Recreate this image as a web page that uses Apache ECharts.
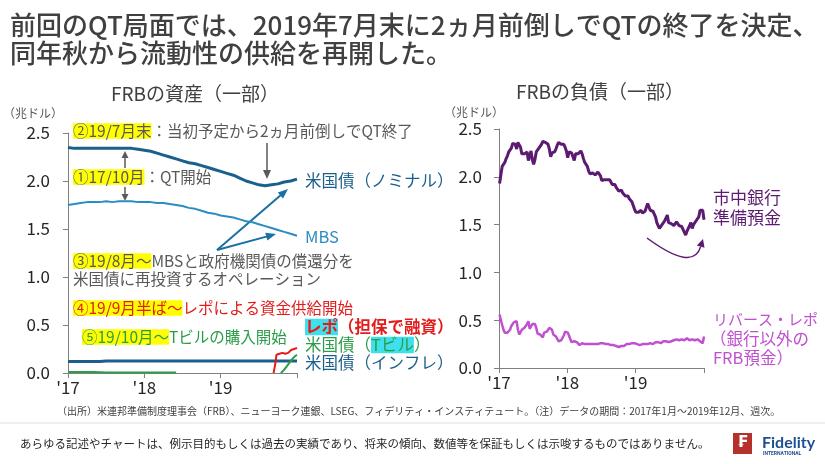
<!DOCTYPE html>
<html><head><meta charset="utf-8">
<script src="https://cdn.jsdelivr.net/npm/echarts@6/dist/echarts.min.js"></script>
<style>html,body{margin:0;padding:0;background:#fff}#c{width:825px;height:464px}</style>
</head><body><div id="c"></div>
<script>
const FONT = '"Noto Sans CJK JP", "Noto Sans", sans-serif';

// ---------- tick labels ----------
const yearTicks = [2017, 2018, 2019, 2020];
const yearLabels = ["'17", "'18", "'19", ""];

// ---------- FRB assets (monthly, Jan-2017 .. end-2019), trillion USD ----------
const ustNominal = [2.35,2.34,2.34,2.34,2.34,2.34,2.34,2.34,2.34,2.34,2.34,2.33,
                    2.32,2.31,2.29,2.27,2.25,2.23,2.21,2.19,2.18,2.16,2.14,2.12,
                    2.10,2.08,2.06,2.03,2.00,1.98,1.96,1.95,1.96,1.97,1.99,2.00,2.02];
const mbs = [1.75,1.76,1.77,1.78,1.78,1.78,1.79,1.78,1.79,1.79,1.79,1.78,
             1.78,1.78,1.77,1.77,1.76,1.75,1.74,1.72,1.71,1.69,1.67,1.66,
             1.64,1.63,1.62,1.60,1.58,1.57,1.55,1.53,1.51,1.49,1.47,1.45,1.43];
const tips = [0.12,0.12,0.12,0.12,0.12,0.12,0.125,0.125,0.125,0.125,0.125,0.125,
              0.125,0.125,0.125,0.125,0.125,0.125,0.125,0.125,0.125,0.125,0.125,0.125,
              0.125,0.125,0.125,0.125,0.125,0.125,0.125,0.125,0.125,0.125,0.125,0.125,0.125];
const billsEarly = [0.01,0.01,0.01,0.01,0.01,0.008,0.006,0.006,0.006,0.006,0.006,0.006,
                    0.006,0.006,0.006,0.006,0.006,0.006];
// weekly tails (week index counted from 4 Jan 2017)
const repoStartWeek = 140;
const repo = [0.00,0.08,0.19,0.21,0.20,0.22,0.21,0.22,0.20,0.22,0.21,0.23,0.24,0.23,0.25,0.25,0.26];
const billsStartWeek = 145;
const bills = [0.00,0.01,0.03,0.05,0.07,0.09,0.11,0.13,0.15,0.16,0.18,0.19];

// ---------- FRB liabilities (weekly, 157 weeks) ----------
const reserves = [1.93,2.02,2.11,2.13,2.15,2.19,2.22,2.26,2.27,2.30,
 2.35,2.37,2.34,2.29,2.36,2.37,2.31,2.24,2.26,2.24,
 2.22,2.26,2.17,2.15,2.27,2.18,2.13,2.18,2.26,2.28,
 2.30,2.31,2.34,2.37,2.35,2.36,2.37,2.34,2.29,2.21,
 2.25,2.27,2.26,2.29,2.33,2.36,2.35,2.34,2.33,2.34,
 2.31,2.27,2.20,2.26,2.24,2.25,2.23,2.17,2.24,2.26,
 2.24,2.23,2.27,2.24,2.19,2.15,2.13,2.11,2.06,2.03,
 2.01,2.04,2.02,2.02,2.03,2.05,2.06,2.01,1.96,1.95,
 1.97,1.95,1.97,1.98,1.97,1.95,1.92,1.93,1.92,1.89,
 1.88,1.85,1.87,1.86,1.83,1.85,1.80,1.80,1.80,1.77,
 1.76,1.74,1.70,1.66,1.63,1.65,1.63,1.63,1.65,1.62,
 1.64,1.64,1.66,1.72,1.71,1.65,1.64,1.64,1.62,1.58,
 1.52,1.49,1.46,1.47,1.50,1.52,1.54,1.56,1.60,1.52,
 1.50,1.51,1.53,1.49,1.51,1.53,1.54,1.49,1.51,1.48,
 1.45,1.43,1.39,1.43,1.46,1.49,1.52,1.46,1.50,1.52,
 1.54,1.56,1.58,1.65,1.67,1.65,1.55];
const rrp = [0.56,0.50,0.45,0.40,0.37,0.39,0.37,0.38,0.40,0.44,
 0.46,0.48,0.49,0.49,0.40,0.35,0.37,0.40,0.42,0.42,
 0.41,0.46,0.49,0.41,0.43,0.46,0.48,0.46,0.42,0.36,
 0.34,0.35,0.34,0.32,0.37,0.39,0.38,0.37,0.42,0.44,
 0.40,0.35,0.34,0.33,0.31,0.28,0.26,0.29,0.31,0.34,
 0.38,0.39,0.37,0.34,0.30,0.27,0.29,0.28,0.27,0.27,
 0.28,0.24,0.25,0.26,0.26,0.25,0.25,0.25,0.24,0.25,
 0.25,0.25,0.26,0.25,0.26,0.25,0.25,0.26,0.25,0.26,
 0.25,0.25,0.24,0.25,0.24,0.24,0.23,0.24,0.23,0.23,
 0.23,0.22,0.22,0.23,0.22,0.23,0.24,0.25,0.24,0.25,
 0.24,0.26,0.25,0.26,0.25,0.25,0.25,0.24,0.25,0.25,
 0.24,0.25,0.24,0.25,0.25,0.26,0.26,0.25,0.26,0.27,
 0.26,0.27,0.27,0.26,0.27,0.28,0.27,0.28,0.28,0.27,
 0.29,0.28,0.29,0.29,0.28,0.30,0.30,0.29,0.29,0.30,
 0.31,0.29,0.29,0.31,0.30,0.29,0.30,0.30,0.31,0.29,
 0.29,0.30,0.29,0.28,0.27,0.26,0.33];

// dates as decimal years
const mo = m => 2017 + m / 12;
const wk = i => 2017 + (3 + 7 * i) / 365;
const monthly = arr => arr.map((v, m) => [mo(m), v]);
const weekly = (arr, start) => arr.map((v, j) => [wk(start + j), v]);

const C = {
  navy: '#1b5f8c', mbs: '#2a8cc2', red: '#e31b1b', green: '#2a9d48',
  purple: '#5c1a70', pink: '#c050d0', gray: '#595959', text: '#404040',
  axis: '#808080', yellow: '#ffff00', cyan: '#3fe0ee'
};

function xAxisCfg(g) {
  return { gridIndex: g, type: 'value', min: 2017, max: 2020, interval: 1,
    axisLine: { lineStyle: { color: C.axis, width: 1 } },
    axisTick: { show: true, length: 5, lineStyle: { color: C.axis } },
    axisLabel: { fontSize: 17, color: '#262626', fontFamily: FONT, margin: 6,
      formatter: v => yearLabels[yearTicks.indexOf(Math.round(v))] || '' },
    splitLine: { show: false } };
}
function yAxisCfg(g, margin) {
  return { gridIndex: g, type: 'value', min: 0, max: 2.5, interval: 0.5,
    axisLine: { show: true, lineStyle: { color: C.axis, width: 1 } },
    axisTick: { show: true, length: 5, lineStyle: { color: C.axis } },
    axisLabel: { fontSize: 17, color: '#262626', fontFamily: FONT, margin: margin,
      formatter: v => v.toFixed(1) },
    splitLine: { show: false } };
}
function line(name, data, color, width, xi, z) {
  return { name, type: 'line', xAxisIndex: xi, yAxisIndex: xi, data, showSymbol: false,
    symbol: 'none', lineStyle: { color, width }, z: z || 2, silent: true, animation: false };
}

// ---------- graphic helpers ----------
function arrow(x1, y1, x2, y2, color, w, hl, hw) {
  const a = Math.atan2(y2 - y1, x2 - x1);
  const bx = x2 - hl * Math.cos(a), by = y2 - hl * Math.sin(a);
  const px = -Math.sin(a) * hw / 2, py = Math.cos(a) * hw / 2;
  return [
    { type: 'line', silent: true, shape: { x1, y1, x2: bx + Math.cos(a), y2: by + Math.sin(a) }, style: { stroke: color, lineWidth: w } },
    { type: 'polygon', silent: true, shape: { points: [[x2, y2], [bx + px, by + py], [bx - px, by - py]] }, style: { fill: color } }
  ];
}
function txt(x, y, text, rich, extra) {
  return { type: 'text', x, y, silent: true,
    style: Object.assign({ text, rich, fontFamily: FONT, verticalAlign: 'middle', align: 'left' }, extra || {}) };
}
const ANN = 15.5;
const richAnn = {
  hl: { backgroundColor: C.yellow, fill: C.gray, fontSize: ANN, fontFamily: FONT, lineHeight: 17, padding: [0, 0, 0, 0] },
  g: { fill: C.gray, fontSize: ANN, fontFamily: FONT, lineHeight: 17 },
  hr: { backgroundColor: C.yellow, fill: C.red, fontSize: ANN, fontFamily: FONT, lineHeight: 17 },
  r: { fill: C.red, fontSize: ANN, fontFamily: FONT, lineHeight: 17 },
  hg: { backgroundColor: C.yellow, fill: C.green, fontSize: ANN, fontFamily: FONT, lineHeight: 17 },
  gr: { fill: C.green, fontSize: ANN, fontFamily: FONT, lineHeight: 17 }
};
const LB = 16.5;
const richLab = {
  rc: { backgroundColor: C.cyan, fill: C.red, fontSize: LB, fontWeight: 'bold', fontFamily: FONT, lineHeight: 18 },
  rb: { fill: C.red, fontSize: LB, fontWeight: 'bold', fontFamily: FONT, lineHeight: 18 },
  gc: { backgroundColor: C.cyan, fill: C.green, fontSize: LB, fontFamily: FONT, lineHeight: 18 },
  gg: { fill: C.green, fontSize: LB, fontFamily: FONT, lineHeight: 18 }
};

// curved arrow (right chart)
const cP0 = [647, 238], cC = [693, 272], cTip = [703, 239];
const cA = Math.atan2(cTip[1] - cC[1], cTip[0] - cC[0]);
const cEnd = [cTip[0] - 8 * Math.cos(cA), cTip[1] - 8 * Math.sin(cA)];
const cPx = -Math.sin(cA) * 4, cPy = Math.cos(cA) * 4;

const graphics = [
  txt(10, 25, '前回のQT局面では、2019年7月末に2ヵ月前倒しでQTの終了を決定、', null, { fontSize: 26, fill: C.text, fontWeight: 500 }),
  txt(10, 53, '同年秋から流動性の供給を再開した。', null, { fontSize: 26, fill: C.text, fontWeight: 500 }),
  txt(195, 94, 'FRBの資産（一部）', null, { fontSize: 19, fill: C.text, align: 'center' }),
  txt(600, 92, 'FRBの負債（一部）', null, { fontSize: 19, fill: C.text, align: 'center' }),
  txt(3, 113, '（兆ドル）', null, { fontSize: 12, fill: C.gray }),
  txt(444, 112, '（兆ドル）', null, { fontSize: 12, fill: C.gray }),

  // left annotations
  txt(73, 131, '{hl|②19/7月末}{g|：当初予定から2ヵ月前倒しでQT終了}', richAnn),
  txt(73, 177, '{hl|①17/10月}{g|：QT開始}', richAnn),
  ...arrow(267, 143, 267, 179, C.gray, 1.5, 9, 8),
  ...arrow(125, 168, 125, 151, C.gray, 1.5, 7, 7),
  ...arrow(125, 187, 125, 201, C.gray, 1.5, 7, 7),
  txt(73, 261, '{hl|③19/8月～}{g|MBSと政府機関債の償還分を}', richAnn),
  txt(73, 279, '{g|米国債に再投資するオペレーション}', richAnn),
  ...arrow(217, 250, 288, 189, '#1a6fa3', 2, 10, 8),
  ...arrow(217, 250, 276, 234, '#1a6fa3', 2, 10, 8),
  txt(73, 308, '{hr|④19/9月半ば～}{r|レポによる資金供給開始}', richAnn),
  txt(82, 337, '{hg|⑤19/10月～}{gr|Tビルの購入開始}', richAnn),

  // left series labels
  txt(305, 181, '米国債（ノミナル）', null, { fontSize: LB, fill: C.navy }),
  txt(305, 237, 'MBS', null, { fontSize: LB, fill: C.mbs }),
  txt(305, 327, '{rc|レポ}{rb|（担保で融資）}', richLab),
  txt(305, 345, '{gg|米国債（}{gc|Tビル}{gg|）}', richLab),
  txt(305, 363, '米国債（インフレ）', null, { fontSize: LB, fill: C.navy }),

  // right labels
  txt(713, 198, '市中銀行', null, { fontSize: 17, fill: C.purple }),
  txt(713, 218, '準備預金', null, { fontSize: 17, fill: C.purple }),
  txt(713, 319, 'リバース・レポ', null, { fontSize: 15, fill: C.pink }),
  txt(710, 339, '（銀行以外の', null, { fontSize: 16.5, fill: C.pink }),
  txt(713, 358, 'FRB預金）', null, { fontSize: 16.5, fill: C.pink }),
  { type: 'bezierCurve', silent: true, shape: { x1: cP0[0], y1: cP0[1], cpx1: cC[0], cpy1: cC[1], x2: cEnd[0], y2: cEnd[1] },
    style: { stroke: C.purple, lineWidth: 1.5, fill: null } },
  { type: 'polygon', silent: true, shape: { points: [cTip, [cEnd[0] + cPx, cEnd[1] + cPy], [cEnd[0] - cPx, cEnd[1] - cPy]] }, style: { fill: C.purple } },

  // footer
  txt(57, 411, '（出所）米連邦準備制度理事会（FRB）、ニューヨーク連銀、LSEG、フィデリティ・インスティテュート。（注）データの期間：2017年1月～2019年12月、週次。', null, { fontSize: 10, fill: C.text }),
  { type: 'line', silent: true, shape: { x1: 0, y1: 423, x2: 825, y2: 423 }, style: { stroke: '#e0e0e0', lineWidth: 1 } },
  txt(20, 444, 'あらゆる記述やチャートは、例示目的もしくは過去の実績であり、将来の傾向、数値等を保証もしくは示唆するものではありません。', null, { fontSize: 11.5, fill: '#262626' }),
  { type: 'rect', silent: true, shape: { x: 733, y: 433, width: 19, height: 21 }, style: { fill: '#b7312c' } },
  txt(742.5, 443.5, '₣', null, { fontSize: 15, fill: '#fff', fontWeight: 'bold', align: 'center', fontFamily: '"DejaVu Sans", sans-serif' }),
  txt(762, 443, 'Fidelity', null, { fontSize: 16, fill: '#1d4f91', fontWeight: 'bold', fontFamily: 'Lato, "Open Sans", sans-serif' }),
  txt(763, 454, 'INTERNATIONAL', null, { fontSize: 5, fill: '#1d4f91', fontWeight: 'bold', fontFamily: 'Roboto, sans-serif' })
];

const chart = echarts.init(document.getElementById('c'), null, { renderer: 'canvas' });
chart.setOption({
  backgroundColor: '#fff',
  animation: false,
  grid: [
    { left: 68, top: 133, width: 229, height: 240 },
    { left: 499, top: 129, width: 205, height: 239 }
  ],
  xAxis: [xAxisCfg(0), xAxisCfg(1)],
  yAxis: [yAxisCfg(0, 18), yAxisCfg(1, 17)],
  series: [
    line('米国債（インフレ）', monthly(tips), C.navy, 3, 0, 3),
    line('米国債（Tビル）初期', monthly(billsEarly), C.green, 2, 0, 3),
    line('MBS', monthly(mbs), C.mbs, 2, 0, 3),
    line('米国債（ノミナル）', monthly(ustNominal), C.navy, 3, 0, 4),
    line('レポ', weekly(repo, repoStartWeek), C.red, 2, 0, 4),
    line('米国債（Tビル）', weekly(bills, billsStartWeek), C.green, 2, 0, 4),
    line('市中銀行準備預金', weekly(reserves, 0), C.purple, 3, 1, 3),
    line('リバース・レポ', weekly(rrp, 0), C.pink, 2.5, 1, 3)
  ],
  graphic: graphics
});
</script>
</body></html>
